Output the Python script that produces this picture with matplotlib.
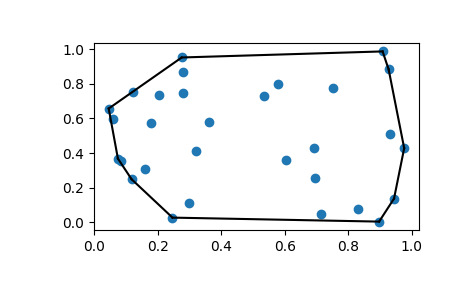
import numpy as np
import matplotlib
matplotlib.use("Agg")
import matplotlib.pyplot as plt

# point coordinates
xs = [0.908, 0.927, 0.578, 0.533, 0.751, 0.930, 0.976, 0.691, 0.603, 0.694,
      0.944, 0.832, 0.713, 0.897, 0.275, 0.280, 0.120, 0.205, 0.280, 0.045,
      0.0575, 0.179, 0.362, 0.074, 0.085, 0.158, 0.117, 0.320, 0.298, 0.246]
ys = [0.987, 0.883, 0.798, 0.732, 0.773, 0.508, 0.428, 0.428, 0.357, 0.258,
      0.137, 0.075, 0.050, 0.004, 0.952, 0.871, 0.750, 0.734, 0.746, 0.657,
      0.595, 0.572, 0.580, 0.368, 0.354, 0.310, 0.249, 0.409, 0.110, 0.027]

points = np.column_stack([xs, ys])


def convex_hull(pts):
    """Monotone chain hull, returns hull vertices in order."""
    order = sorted(range(len(pts)), key=lambda i: (pts[i][0], pts[i][1]))

    def cross(o, a, b):
        return (pts[a][0] - pts[o][0]) * (pts[b][1] - pts[o][1]) - \
               (pts[a][1] - pts[o][1]) * (pts[b][0] - pts[o][0])

    lower = []
    for i in order:
        while len(lower) >= 2 and cross(lower[-2], lower[-1], i) <= 0:
            lower.pop()
        lower.append(i)
    upper = []
    for i in reversed(order):
        while len(upper) >= 2 and cross(upper[-2], upper[-1], i) <= 0:
            upper.pop()
        upper.append(i)
    return lower[:-1] + upper[:-1]


hull = convex_hull(points)

fig = plt.figure(figsize=(4.65, 2.88), dpi=100)
ax = fig.add_axes([0.202, 0.201, 0.699, 0.650])

ax.plot(points[:, 0], points[:, 1], 'o')
for k in range(len(hull)):
    a, b = hull[k], hull[(k + 1) % len(hull)]
    ax.plot(points[[a, b], 0], points[[a, b], 1], 'k-')

ax.set_xticks([0.0, 0.2, 0.4, 0.6, 0.8, 1.0])
ax.set_yticks([0.0, 0.2, 0.4, 0.6, 0.8, 1.0])

fig.savefig('out.png', dpi=100)
